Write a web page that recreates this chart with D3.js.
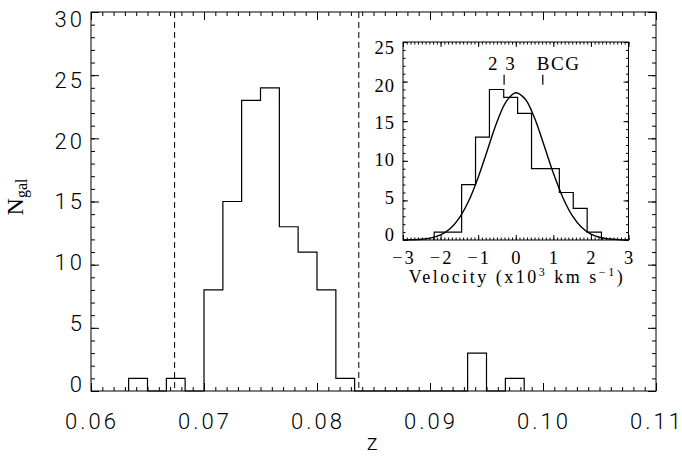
<!DOCTYPE html>
<html>
<head>
<meta charset="utf-8">
<script src="https://cdn.jsdelivr.net/npm/d3@7"></script>
<style>
  body { margin: 0; background: #fff; }
  .thin { font-family: Roboto, "Liberation Sans", sans-serif; font-weight: 300; }
  .serif { font-family: "Liberation Serif", "DejaVu Serif", serif; }
</style>
</head>
<body>
<div id="chart"></div>
<script>
// main panel: redshift histogram, bin left edges and counts (bin width 1/600)
const zLeft = [0.06333, 0.06500, 0.06667, 0.06833, 0.07000, 0.07167, 0.07333,
  0.07500, 0.07667, 0.07833, 0.08000, 0.08167, 0.08333, 0.08500, 0.08667,
  0.08833, 0.09000, 0.09167, 0.09333, 0.09500, 0.09667];
const zCount = [1, 0, 1, 0, 8, 15, 23, 24, 13, 11, 8, 1, 0, 0, 0, 0, 0, 0, 3, 0, 1];
const zBinWidth = 0.001667;
const zCuts = [0.0674, 0.0837];
const zTicks = [0.06, 0.07, 0.08, 0.09, 0.10, 0.11];
const zTickLabels = ["0.06", "0.07", "0.08", "0.09", "0.10", "0.11"];
const nTicks = [0, 5, 10, 15, 20, 25, 30];

// inset: velocity histogram (x10^3 km/s)
const vEdges = [-2.17, -1.80, -1.44, -1.07, -0.70, -0.32, 0.05, 0.42, 0.80, 1.16, 1.53, 1.90, 2.28];
const vCount = [1, 1, 7, 13, 19, 18, 16, 9, 9, 6, 4, 1];
// gaussian fit
const gaussV = [-3, -2.75, -2.5, -2.25, -2, -1.75, -1.5, -1.25, -1, -0.75, -0.5, -0.25,
  0, 0.25, 0.5, 0.75, 1, 1.25, 1.5, 1.75, 2, 2.25, 2.5, 2.75, 3];
const gaussN = [0.01, 0.03, 0.10, 0.27, 0.65, 1.42, 2.8, 4.95, 7.9, 11.4, 14.9, 17.5,
  18.6, 17.8, 15.4, 12.0, 8.45, 5.4, 3.1, 1.6, 0.74, 0.31, 0.12, 0.04, 0.01];
const markV = [-0.31, 0.72];
const markText = ["2 3", "BCG"];
const vTicks = [-3, -2, -1, 0, 1, 2, 3];
const vTickLabels = ["\u22123", "\u22122", "\u22121", "0", "1", "2", "3"];
const niTicks = [0, 5, 10, 15, 20, 25];

const W = 682, H = 461;
const svg = d3.select("#chart").append("svg").attr("width", W).attr("height", H);

// draw a box with inward ticks on all four sides
function frame(g, x, y, xMaj, xMin, yMaj, yMin, majLen, minLen) {
  const [x0, x1] = x.range(), [y0, y1] = y.range();
  g.append("rect").attr("x", x0).attr("y", y1).attr("width", x1 - x0).attr("height", y0 - y1)
    .attr("fill", "#fff").attr("stroke", "#000").attr("stroke-width", 1);
  const put = (axisFn, scale, vals, len, tr) => {
    g.append("g").attr("transform", tr)
      .call(axisFn(scale).tickValues(vals).tickSize(-len).tickSizeOuter(0).tickFormat(""))
      .call(a => { a.select(".domain").remove(); a.selectAll("text").remove(); })
      .selectAll("line").attr("stroke", "#000");
  };
  [[xMaj, majLen], [xMin, minLen]].forEach(([v, l]) => {
    put(d3.axisBottom, x, v, l, `translate(0,${y0})`);
    put(d3.axisTop, x, v, l, `translate(0,${y1})`);
  });
  [[yMaj, majLen], [yMin, minLen]].forEach(([v, l]) => {
    put(d3.axisLeft, y, v, l, `translate(${x0},0)`);
    put(d3.axisRight, y, v, l, `translate(${x1},0)`);
  });
}

function stepPoints(edges, counts) {
  const pts = [[edges[0], 0]];
  counts.forEach((c, i) => { pts.push([edges[i], c]); pts.push([edges[i + 1], c]); });
  pts.push([edges[edges.length - 1], 0]);
  return pts;
}

// ---- main panel
const x = d3.scaleLinear().domain([0.06, 0.11]).range([91, 656]);
const y = d3.scaleLinear().domain([0, 30]).range([391, 12]);
const main = svg.append("g");
frame(main, x, y, zTicks, d3.range(60, 111).map(d => d / 1000), nTicks, d3.range(0, 31),
  8, 4);

const zEdges = zLeft.concat([zLeft[zLeft.length - 1] + zBinWidth]);
main.append("path")
  .attr("d", d3.line().x(d => x(d[0])).y(d => y(d[1]))(stepPoints(zEdges, zCount)))
  .attr("fill", "none").attr("stroke", "#000").attr("stroke-width", 1.2);

main.selectAll(".cut").data(zCuts).join("line")
  .attr("x1", d => x(d)).attr("x2", d => x(d)).attr("y1", y(30)).attr("y2", y(0))
  .attr("stroke", "#000").attr("stroke-width", 1).attr("stroke-dasharray", "6,4");

main.selectAll(".xl").data(zTicks).join("text").attr("class", "thin")
  .attr("x", d => x(d) + 1).attr("y", 429)
  .attr("text-anchor", "middle").attr("font-size", 22).attr("letter-spacing", 3)
  .text((d, i) => zTickLabels[i]);
main.selectAll(".yl").data(nTicks).join("text").attr("class", "thin")
  .attr("x", 85).attr("y", d => y(d) + 7 * (2 * d / 30 - 1))
  .attr("dy", "0.36em").attr("text-anchor", "end").attr("font-size", 22).attr("letter-spacing", 3)
  .text(d => d);

main.append("text").attr("class", "thin").attr("x", 372).attr("y", 450)
  .attr("text-anchor", "middle").attr("font-size", 22).text("z");

const yl = main.append("text").attr("class", "serif")
  .attr("transform", "translate(23,197) rotate(-90)").attr("text-anchor", "middle");
yl.append("tspan").attr("font-size", 24).text("N");
yl.append("tspan").attr("font-size", 16).attr("dy", 4).text("gal");

// ---- inset panel
const xi = d3.scaleLinear().domain([-3, 3]).range([403, 628.5]);
const yi = d3.scaleLinear().domain([0, 25]).range([240, 42]);
const ins = svg.append("g");
frame(ins, xi, yi, vTicks, d3.range(-30, 31).map(d => d / 10), niTicks, d3.range(0, 26), 5, 2.5);

ins.append("path")
  .attr("d", d3.line().x(d => xi(d[0])).y(d => yi(d[1]))(stepPoints(vEdges, vCount)))
  .attr("fill", "none").attr("stroke", "#000").attr("stroke-width", 1.2);

ins.append("path")
  .datum(gaussV.map((v, i) => [v, gaussN[i]]))
  .attr("d", d3.line().x(d => xi(d[0])).y(d => yi(d[1])).curve(d3.curveCatmullRom))
  .attr("fill", "none").attr("stroke", "#000").attr("stroke-width", 1.4);

ins.selectAll(".mk").data(markV).join("line")
  .attr("x1", d => xi(d)).attr("x2", d => xi(d))
  .attr("y1", yi(19.6)).attr("y2", yi(19.6) - 10)
  .attr("stroke", "#000").attr("stroke-width", 1.2);
ins.selectAll(".mt").data(markV).join("text").attr("class", "serif")
  .attr("x", (d, i) => xi(d) - (i === 0 ? 16 : 6)).attr("y", yi(19.6) - 15)
  .attr("font-size", 19).attr("letter-spacing", 1.5)
  .text((d, i) => markText[i]);

ins.selectAll(".xil").data(vTicks).join("text").attr("class", "serif")
  .attr("x", d => xi(d) + 1).attr("y", 264)
  .attr("text-anchor", "middle").attr("font-size", 18.5).attr("letter-spacing", 2)
  .text((d, i) => vTickLabels[i]);
ins.selectAll(".yil").data(niTicks).join("text").attr("class", "serif")
  .attr("x", 395).attr("y", d => yi(d) + 5.5 * (2 * d / 25 - 1))
  .attr("dy", "0.36em").attr("text-anchor", "end").attr("font-size", 18.5).attr("letter-spacing", 1)
  .text(d => d);

const vl = ins.append("text").attr("class", "serif").attr("x", 517).attr("y", 283)
  .attr("text-anchor", "middle").attr("font-size", 18).attr("letter-spacing", 2.5);
vl.append("tspan").text("Velocity (x10");
vl.append("tspan").attr("font-size", 12).attr("dy", -7).text("3");
vl.append("tspan").attr("dy", 7).text(" km s");
vl.append("tspan").attr("font-size", 12).attr("dy", -7).text("\u22121");
vl.append("tspan").attr("dy", 7).text(")");
</script>
</body>
</html>
